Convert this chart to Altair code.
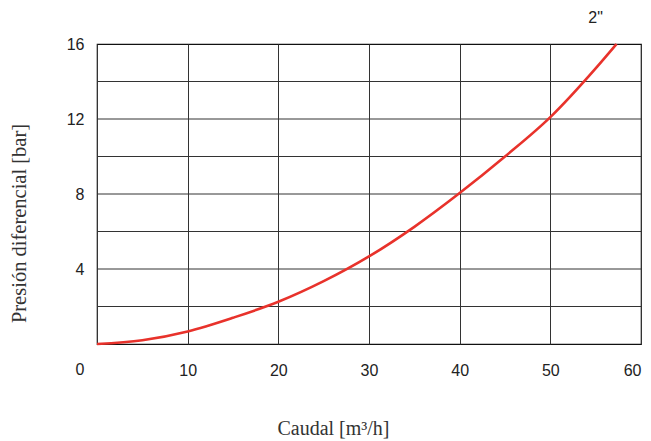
import altair as alt
import pandas as pd

caudal = [0, 5, 10, 15, 20, 25, 30, 35, 40, 45, 50, 55, 57.3]
presion = [0, 0.2, 0.67, 1.4, 2.25, 3.35, 4.67, 6.25, 8.05, 10.0, 12.1, 14.7, 16.0]
curve_label = ['2"']
x_ticks = [0, 10, 20, 30, 40, 50, 60]
y_grid = [2, 4, 6, 8, 10, 12, 14]
y_labels = [4, 8, 12, 16]

df = pd.DataFrame({"q": caudal, "p": presion})
lab = pd.DataFrame({"q": [caudal[-1]], "p": [presion[-1]], "t": curve_label})
zero = pd.DataFrame({"q": [0], "p": [0], "t": ["0"]})
grid = pd.DataFrame({"p": y_grid})

red = "#e8322b"
sans = "Liberation Sans"
serif = "Liberation Serif"

xs = alt.Scale(domain=[0, 60], nice=False, zero=True)
ys = alt.Scale(domain=[0, 16], nice=False)

xaxis = alt.Axis(values=x_ticks, grid=True, ticks=False, domain=False,
                 labelExpr="datum.value == 0 ? '' : datum.label",
                 labelFont=sans, labelFontSize=16, labelColor="#222",
                 labelPadding=18, title="Caudal [m³/h]", titleFont=serif,
                 titleFontSize=20, titleFontWeight="normal", titleColor="#333",
                 titleX=236, titleY=90, titleAnchor="middle", titleAlign="center",
                 titleBaseline="alphabetic")
yaxis = alt.Axis(values=y_labels, grid=False, ticks=False, domain=False,
                 labelFont=sans, labelFontSize=16, labelColor="#222",
                 labelPadding=13, title="Presión diferencial [bar]", titleFont=serif,
                 titleFontSize=20.5, titleFontWeight="normal", titleColor="#333",
                 titleAngle=-90, titleX=-78, titleY=179, titleAlign="center",
                 titleBaseline="middle")

hgrid = alt.Chart(grid).mark_rule(color="#333", strokeWidth=1).encode(
    y=alt.Y("p:Q", scale=ys, axis=yaxis))

line = alt.Chart(df).mark_line(color=red, strokeWidth=2.6, interpolate="monotone").encode(
    x=alt.X("q:Q", scale=xs, axis=xaxis),
    y=alt.Y("p:Q", scale=ys, axis=yaxis),
)

txt = alt.Chart(lab).mark_text(font=sans, fontSize=16, color="#222", align="center",
                               baseline="middle", dx=-21, dy=-26).encode(
    x=alt.X("q:Q", scale=xs), y=alt.Y("p:Q", scale=ys), text="t:N")

ztxt = alt.Chart(zero).mark_text(font=sans, fontSize=16, color="#222", align="center",
                                 baseline="middle", dx=-17, dy=26).encode(
    x=alt.X("q:Q", scale=xs), y=alt.Y("p:Q", scale=ys), text="t:N")

chart = alt.layer(hgrid, line, txt, ztxt).properties(
    width=544, height=300,
    autosize=alt.AutoSizeParams(type="none"),
    padding={"left": 89, "top": 36, "right": 2, "bottom": 97},
).configure_view(stroke="#111", strokeWidth=1.2).configure_axis(
    gridColor="#333", gridWidth=1, gridOpacity=1
)

chart.save("out.html", embed_options={"renderer": "svg", "actions": False})
